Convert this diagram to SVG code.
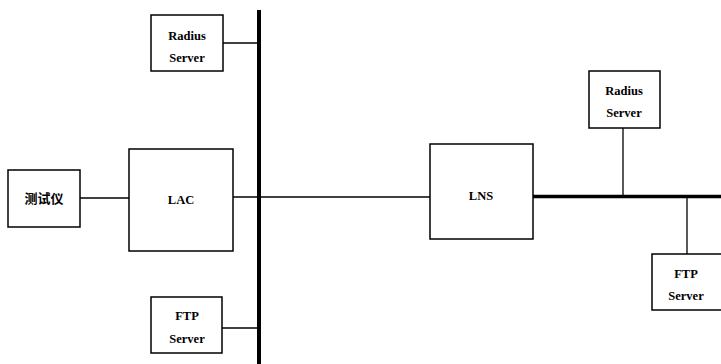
<svg xmlns="http://www.w3.org/2000/svg" width="721" height="364" viewBox="0 0 721 364">
<style>
.box{fill:#fff;stroke:#000;stroke-width:1.5}
.ln{stroke:#000;stroke-width:1.3;fill:none}
.bus{stroke:#000;stroke-width:4;fill:none}
text{font-family:"Liberation Serif","Noto Sans CJK SC",serif;font-size:12.5px;font-weight:bold;text-anchor:middle;fill:#000}
.cn{font-family:"Noto Sans CJK SC",sans-serif;font-size:13px}
</style>
<rect width="721" height="364" fill="#fff"/>
<g id="connectors">
<line class="bus" x1="259" y1="10" x2="259" y2="364"/>
<line class="bus" x1="533" y1="196.5" x2="721" y2="196.5" style="stroke-width:3.5"/>
<line class="ln" x1="223" y1="43" x2="259" y2="43"/>
<line class="ln" x1="222" y1="328" x2="259" y2="328"/>
<line class="ln" x1="80" y1="198" x2="129" y2="198"/>
<line class="ln" x1="233" y1="197" x2="430" y2="197"/>
<line class="ln" x1="623" y1="128" x2="623" y2="196"/>
<line class="ln" x1="687" y1="196" x2="687" y2="254"/>
</g>
<g id="radius1">
<rect class="box" x="151" y="15" width="72" height="56"/>
<text x="187" y="40">Radius</text>
<text x="187" y="62">Server</text>
</g>
<g id="tester">
<rect class="box" x="8" y="170" width="72" height="57"/>
<text class="cn" x="44" y="203">测试仪</text>
</g>
<g id="lac">
<rect class="box" x="129" y="149" width="104" height="102"/>
<text x="181" y="204">LAC</text>
</g>
<g id="ftp1">
<rect class="box" x="151" y="297" width="71" height="56"/>
<text x="187" y="320">FTP</text>
<text x="187" y="343">Server</text>
</g>
<g id="lns">
<rect class="box" x="430" y="144" width="103" height="95"/>
<text x="481" y="200">LNS</text>
</g>
<g id="radius2">
<rect class="box" x="589" y="71" width="71" height="57"/>
<text x="624" y="95">Radius</text>
<text x="624" y="117">Server</text>
</g>
<g id="ftp2">
<rect class="box" x="652" y="254" width="80" height="56"/>
<text x="686" y="278">FTP</text>
<text x="686" y="300">Server</text>
</g>
</svg>
